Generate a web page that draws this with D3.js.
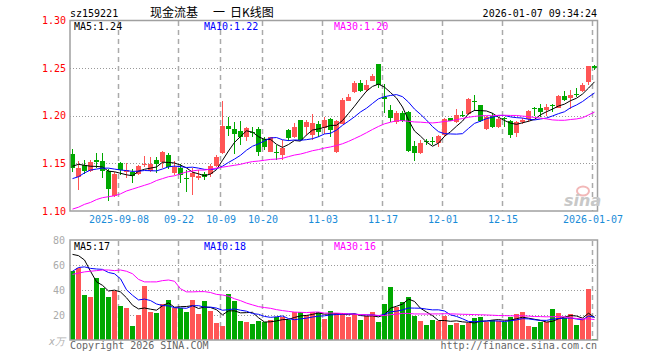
<!DOCTYPE html>
<html>
<head>
<meta charset="utf-8">
<script src="https://cdn.jsdelivr.net/npm/d3@7"></script>
<style>
  body { margin: 0; background: #fff; }
  text { font-family: "DejaVu Sans Mono", monospace; font-size: 10px; }
</style>
</head>
<body>
<svg id="chart" width="660" height="360"></svg>
<script>
// daily K data (88 sessions, 2025-08-27 .. 2026-01-07)
var open = [1.160,1.136,1.148,1.142,1.154,1.153,1.142,1.116,1.150,1.141,
  1.141,1.139,1.148,1.142,1.154,1.151,1.159,1.140,1.145,1.135,
  1.136,1.135,1.139,1.139,1.147,1.161,1.189,1.186,1.184,1.178,
  1.183,1.186,1.176,1.162,1.162,1.159,1.185,1.178,1.196,1.188,
  1.180,1.191,1.187,1.197,1.162,1.191,1.216,1.225,1.234,1.227,
  1.237,1.254,1.220,1.206,1.193,1.203,1.204,1.168,1.161,1.173,
  1.174,1.171,1.180,1.198,1.193,1.201,1.202,1.215,1.211,1.186,
  1.200,1.188,1.198,1.194,1.182,1.193,1.197,1.208,1.208,1.206,
  1.211,1.208,1.221,1.219,1.223,1.226,1.235,1.252];
var close = [1.145,1.145,1.142,1.151,1.151,1.142,1.123,1.139,1.143,1.143,
  1.137,1.147,1.149,1.149,1.149,1.162,1.146,1.146,1.138,1.134,
  1.140,1.137,1.136,1.147,1.157,1.189,1.186,1.181,1.178,1.187,
  1.182,1.162,1.167,1.178,1.161,1.166,1.177,1.188,1.175,1.193,
  1.192,1.183,1.196,1.185,1.194,1.217,1.220,1.234,1.226,1.232,
  1.242,1.232,1.218,1.198,1.203,1.195,1.163,1.161,1.171,1.172,
  1.173,1.179,1.197,1.195,1.201,1.200,1.218,1.214,1.194,1.199,
  1.188,1.197,1.197,1.180,1.193,1.196,1.205,1.207,1.204,1.209,
  1.210,1.221,1.217,1.222,1.222,1.232,1.252,1.250];
var high = [1.165,1.152,1.154,1.154,1.161,1.161,1.144,1.141,1.151,1.150,
  1.144,1.148,1.158,1.157,1.157,1.163,1.161,1.152,1.149,1.143,
  1.145,1.143,1.141,1.149,1.159,1.216,1.199,1.193,1.195,1.188,
  1.188,1.188,1.178,1.178,1.169,1.175,1.186,1.192,1.196,1.196,
  1.202,1.194,1.199,1.198,1.196,1.219,1.223,1.236,1.238,1.238,
  1.244,1.254,1.233,1.211,1.205,1.205,1.205,1.174,1.175,1.176,
  1.178,1.180,1.198,1.198,1.207,1.205,1.219,1.222,1.211,1.200,
  1.203,1.199,1.199,1.196,1.194,1.198,1.206,1.209,1.212,1.212,
  1.212,1.222,1.226,1.227,1.229,1.234,1.252,1.253];
var low = [1.141,1.122,1.139,1.141,1.145,1.135,1.111,1.115,1.138,1.135,
  1.129,1.138,1.146,1.141,1.140,1.145,1.144,1.138,1.129,1.120,
  1.117,1.133,1.133,1.136,1.146,1.160,1.179,1.160,1.169,1.173,
  1.178,1.158,1.164,1.162,1.154,1.154,1.173,1.177,1.174,1.180,
  1.175,1.178,1.181,1.178,1.161,1.191,1.215,1.224,1.225,1.225,
  1.236,1.229,1.203,1.193,1.191,1.193,1.162,1.153,1.160,1.169,
  1.169,1.167,1.178,1.194,1.192,1.199,1.201,1.205,1.193,1.185,
  1.187,1.187,1.188,1.177,1.178,1.191,1.193,1.200,1.199,1.200,
  1.204,1.208,1.215,1.207,1.220,1.225,1.232,1.248];
// volume, x万
var volume = [55.5,57.3,36,34.7,49.3,41.3,34.7,39.5,27.5,25.9,
  11.5,20,43.2,22.7,21.9,28.8,32,25.3,25.3,22.7,
  32,20.8,31.2,23.2,13.9,11.5,36.8,31.2,15.2,14.7,
  12.8,15.2,14.1,16,18.1,18.1,16,22.1,22.1,20,
  22.1,22.1,16.8,23.2,21.3,21.3,18.7,20.5,16,19.2,
  22.1,14.7,28.8,42.7,26.7,30.7,34.7,19.5,15.2,12,
  16,15.2,19.5,12,13.9,12,13.3,17.3,18.4,14.7,
  16,15.2,14.7,18.7,20.5,22.1,11.2,10.4,14.1,14.1,
  24.8,21.3,17.3,20.5,12,16.5,40.8,0.8];

// MA values before a full window exists (the earlier sessions are off-chart)
var ma5Lead = [1.147,1.149,1.148,1.147];
var ma10Lead = [1.134,1.136,1.140,1.143,1.144,1.145,1.145,1.144,1.143];
var ma30Lead = [1.102,1.104,1.107,1.109,1.112,1.114,1.115,1.116,1.118,1.121,
  1.123,1.125,1.127,1.129,1.132,1.134,1.136,1.137,1.139,1.141,
  1.142,1.143,1.143,1.144,1.145,1.146,1.147,1.148,1.149];
var vma5Lead = [68.5,67.5,64,55];
var vma10Lead = [55,58,58.5,57.3,56.8,56.5,54,53,49];
var vma30Lead = [52.5,53.5,54.5,55,55.5,56,56,55.5,56,55,
  53,48.5,46.5,46.5,46.5,47.5,48,47,41,38.5,
  38.5,38.7,38.7,38,36.5,36,35,33,31.5];

var tickIdx = [8,18,25,32,42,52,62,72,87];
var tickLabels = ['2025-09-08','09-22','10-09','10-20','11-03','11-17','12-01','12-15','2026-01-07'];
var priceTicks = [1.10,1.15,1.20,1.25,1.30];
var volTicks = [20,40,60,80];
var priceLegend = ['1.24','1.22','1.20'];
var volLegend = ['17','18','16'];

var RED = '#ff5555', GREEN = '#00a800', GRID = '#aaaaaa';
var L = 70, R = 597.5;

var svg = d3.select('#chart');

var x = d3.scaleBand().domain(d3.range(close.length))
    .range([69.5, 597.5]).paddingInner(1 / 6).paddingOuter(1 / 12);
var gx = d3.scaleLinear().domain([0, close.length - 1])
    .range([x(0) + 0.5, x(close.length - 1) + 0.5]);
var yP = d3.scaleLinear().domain([1.10, 1.30]).range([211, 20.5]);
var yV = d3.scaleLinear().domain([0, 80]).range([340, 240]);

function movingAvg(arr, n, lead) {
    return arr.map(function (v, i) {
        return i < n - 1 ? lead[i] : d3.mean(arr.slice(i - n + 1, i + 1));
    });
}

function panelGrid(y, ticks, top, bottom) {
    var g = svg.append('g');
    g.selectAll('line.h').data(ticks).join('line')
        .attr('x1', L).attr('x2', R)
        .attr('y1', function (d) { return Math.round(y(d)) + 0.5; })
        .attr('y2', function (d) { return Math.round(y(d)) + 0.5; })
        .attr('stroke', '#999').attr('stroke-dasharray', '1,2');
    g.selectAll('line.v').data(tickIdx).join('line')
        .attr('x1', function (d) { return gx(d); })
        .attr('x2', function (d) { return gx(d); })
        .attr('y1', top).attr('y2', bottom)
        .attr('stroke', GRID).attr('stroke-width', 1.5)
        .attr('stroke-dasharray', '5,4');
}

panelGrid(yP, [1.15, 1.20, 1.25], 21, 211);
panelGrid(yV, [20, 40, 60], 241, 340);

// candles
var up = function (i) { return close[i] >= open[i]; };
var candles = svg.append('g').attr('shape-rendering', 'crispEdges');
candles.selectAll('line').data(close).join('line')
    .attr('x1', function (d, i) { return x(i) + 2.5; })
    .attr('x2', function (d, i) { return x(i) + 2.5; })
    .attr('y1', function (d, i) { return yP(high[i]); })
    .attr('y2', function (d, i) { return yP(low[i]); })
    .attr('stroke', function (d, i) { return up(i) ? RED : GREEN; });
candles.selectAll('rect').data(close).join('rect')
    .attr('x', function (d, i) { return x(i); })
    .attr('width', x.bandwidth())
    .attr('y', function (d, i) { return yP(Math.max(open[i], close[i])); })
    .attr('height', function (d, i) { return Math.max(1, Math.abs(yP(open[i]) - yP(close[i]))); })
    .attr('fill', function (d, i) { return up(i) ? RED : GREEN; });

// volume bars
svg.append('g').attr('shape-rendering', 'crispEdges')
    .selectAll('rect').data(volume).join('rect')
    .attr('x', function (d, i) { return x(i); })
    .attr('width', x.bandwidth())
    .attr('y', function (d) { return yV(d); })
    .attr('height', function (d) { return yV(0) - yV(d); })
    .attr('fill', function (d, i) { return up(i) ? RED : GREEN; });

// moving averages
var maColors = ['#000000', '#0000ff', '#ff00ff'];
function drawLines(series, y) {
    var line = d3.line()
        .x(function (d, i) { return x(i) + 2.5; })
        .y(function (d) { return y(d); });
    svg.append('g').selectAll('path').data(series).join('path')
        .attr('d', line).attr('fill', 'none')
        .attr('stroke', function (d, i) { return maColors[i]; })
        .attr('stroke-width', 1);
}
drawLines([movingAvg(close, 5, ma5Lead), movingAvg(close, 10, ma10Lead), movingAvg(close, 30, ma30Lead)], yP);
drawLines([movingAvg(volume, 5, vma5Lead), movingAvg(volume, 10, vma10Lead), movingAvg(volume, 30, vma30Lead)], yV);

// panel frames
[[20.5, 211], [240, 340]].forEach(function (p) {
    svg.append('rect').attr('x', L).attr('y', p[0])
        .attr('width', R - L).attr('height', p[1] - p[0])
        .attr('fill', 'none').attr('stroke', '#a0a0a0').attr('stroke-width', 1.5);
});

// axes
var ay = svg.append('g').attr('transform', 'translate(' + L + ',0)')
    .call(d3.axisLeft(yP).tickValues(priceTicks).tickSize(0).tickPadding(4).tickFormat(d3.format('.2f')));
ay.select('.domain').remove();
ay.selectAll('text').attr('fill', '#ff0000').style('font-family', '"DejaVu Sans Mono", monospace').style('font-size', '10px');

var av = svg.append('g').attr('transform', 'translate(' + L + ',0)')
    .call(d3.axisLeft(yV).tickValues(volTicks).tickSize(0).tickPadding(5).tickFormat(d3.format('d')));
av.select('.domain').remove();
av.selectAll('text').attr('fill', '#aaaaaa').style('font-family', '"DejaVu Sans Mono", monospace').style('font-size', '10px');

var ax = svg.append('g').attr('transform', 'translate(0,211)')
    .call(d3.axisBottom(gx).tickValues(tickIdx).tickSize(0).tickPadding(5)
        .tickFormat(function (d, i) { return tickLabels[i]; }));
ax.select('.domain').remove();
ax.selectAll('text').attr('fill', '#1a8cd8').style('font-family', '"DejaVu Sans Mono", monospace').style('font-size', '10px');

// header texts
function label(t, xx, yy, color, anchor, extra) {
    var s = svg.append('text').attr('x', xx).attr('y', yy).attr('fill', color)
        .attr('text-anchor', anchor || 'start').text(t);
    if (extra) extra(s);
    return s;
}
label('sz159221', 70, 16.5, '#000');
var cjk = function (s) { s.style('font-family', '"Noto Sans CJK SC", sans-serif').style('font-size', '12px'); };
label('现金流基', 150, 17, '#000', 'start', cjk);
label('一', 213, 17, '#000', 'start', cjk);
label('日K线图', 230, 17, '#000', 'start', cjk);
label('2026-01-07 09:34:24', 597, 16.5, '#000', 'end');

['MA5:', 'MA10:', 'MA30:'].forEach(function (m, i) {
    label(m + priceLegend[i], [74, 204, 334][i], 30, maColors[i]);
    label(m + volLegend[i], [74, 204, 334][i], 250, maColors[i]);
});

label('x万', 49, 345, '#b0b0b0', 'start', function (s) { s.style('font-style', 'italic'); });
label('Copyright 2026 SINA.COM', 70, 349, '#666');
label('http://finance.sina.com.cn', 597, 349, '#666', 'end');

// sina watermark
svg.append('ellipse').attr('cx', 583).attr('cy', 191).attr('rx', 6).attr('ry', 4.5)
    .attr('fill', 'none').attr('stroke', '#f2b8b8').attr('stroke-width', 2);
label('sina', 564, 206, '#c8c8c8', 'start', function (s) {
    s.style('font-family', '"DejaVu Sans", sans-serif').style('font-size', '16px')
        .style('font-weight', 'bold').style('font-style', 'italic');
});
</script>
</body>
</html>
